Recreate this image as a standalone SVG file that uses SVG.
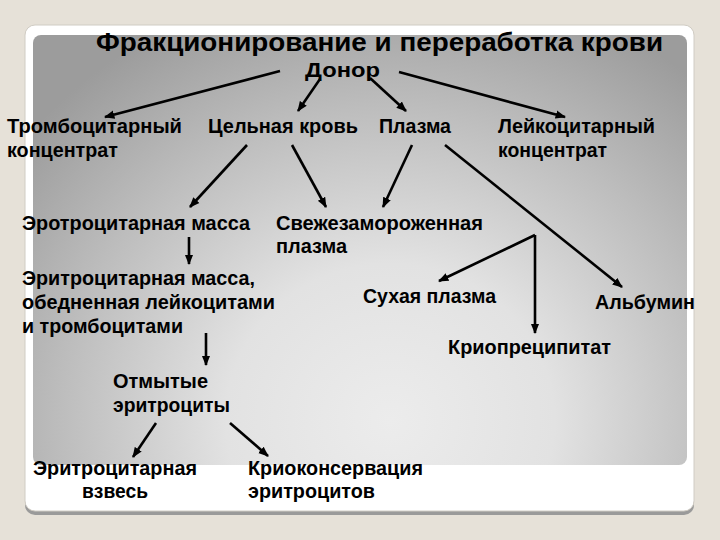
<svg xmlns="http://www.w3.org/2000/svg" width="720" height="540" viewBox="0 0 720 540">
<defs>
<radialGradient id="pg" gradientUnits="userSpaceOnUse" cx="390" cy="420" r="470" gradientTransform="translate(390 420) scale(1 0.95) translate(-390 -420)">
<stop offset="0" stop-color="#ececec"/>
<stop offset="0.35" stop-color="#e2e2e2"/>
<stop offset="0.7" stop-color="#bdbdbd"/>
<stop offset="1" stop-color="#9c9c9c"/>
</radialGradient>
<marker id="ah" viewBox="0 0 10 10" refX="9" refY="5" markerWidth="4" markerHeight="4" orient="auto" markerUnits="strokeWidth">
<path d="M0,1 L10,5 L0,9 z" fill="#000"/>
</marker>
<style>
text{font-family:"Liberation Sans",Arial,sans-serif;font-weight:bold;fill:#000;}
.t{font-size:19.5px;}
.c{stroke:#000;stroke-width:2.6;fill:none;}
.a{marker-end:url(#ah);}
</style>
</defs>
<rect width="720" height="540" fill="#e6e1d8"/>
<g id="card">
<rect x="25" y="28" width="669" height="487" rx="10" fill="#9a9a9a"/>
<rect x="25" y="25" width="669" height="486" rx="10" fill="#ffffff" stroke="#d0ccc4" stroke-width="1"/>
<rect x="33" y="35" width="654" height="430" rx="8" fill="url(#pg)"/>
</g>
<g id="title"><text x="96" y="51" font-size="25" textLength="567" lengthAdjust="spacingAndGlyphs">Фракционирование и переработка крови</text></g>
<g id="donor"><text x="305" y="77" font-size="21" textLength="75" lengthAdjust="spacingAndGlyphs">Донор</text></g>
<g id="tromb"><text class="t" x="7" y="133" textLength="175" lengthAdjust="spacingAndGlyphs">Тромбоцитарный</text><text class="t" x="7" y="157" textLength="111" lengthAdjust="spacingAndGlyphs">концентрат</text></g>
<g id="whole"><text class="t" x="208" y="133" textLength="150" lengthAdjust="spacingAndGlyphs">Цельная кровь</text></g>
<g id="plasma"><text class="t" x="379" y="133" textLength="72" lengthAdjust="spacingAndGlyphs">Плазма</text></g>
<g id="leuk"><text class="t" x="498" y="133" textLength="157" lengthAdjust="spacingAndGlyphs">Лейкоцитарный</text><text class="t" x="498" y="157" textLength="109" lengthAdjust="spacingAndGlyphs">концентрат</text></g>
<g id="ermass"><text class="t" x="22" y="230" textLength="228" lengthAdjust="spacingAndGlyphs">Эротроцитарная масса</text></g>
<g id="ffp"><text class="t" x="276" y="230" textLength="207" lengthAdjust="spacingAndGlyphs">Свежезамороженная</text><text class="t" x="276" y="253" textLength="71" lengthAdjust="spacingAndGlyphs">плазма</text></g>
<g id="erdepl"><text class="t" x="22" y="285" textLength="233" lengthAdjust="spacingAndGlyphs">Эритроцитарная масса,</text><text class="t" x="22" y="309" textLength="253" lengthAdjust="spacingAndGlyphs">обедненная лейкоцитами</text><text class="t" x="22" y="333" textLength="161" lengthAdjust="spacingAndGlyphs">и тромбоцитами</text></g>
<g id="dry"><text class="t" x="363" y="303" textLength="133" lengthAdjust="spacingAndGlyphs">Сухая плазма</text></g>
<g id="alb"><text class="t" x="595" y="309" textLength="100" lengthAdjust="spacingAndGlyphs">Альбумин</text></g>
<g id="cryo"><text class="t" x="448" y="354" textLength="163" lengthAdjust="spacingAndGlyphs">Криопреципитат</text></g>
<g id="washed"><text class="t" x="113" y="388" textLength="95" lengthAdjust="spacingAndGlyphs">Отмытые</text><text class="t" x="113" y="412" textLength="117" lengthAdjust="spacingAndGlyphs">эритроциты</text></g>
<g id="susp"><text class="t" x="33" y="475" textLength="164" lengthAdjust="spacingAndGlyphs">Эритроцитарная</text><text class="t" x="82" y="498" textLength="66" lengthAdjust="spacingAndGlyphs">взвесь</text></g>
<g id="cryocons"><text class="t" x="248" y="475" textLength="175" lengthAdjust="spacingAndGlyphs">Криоконсервация</text><text class="t" x="248" y="498" textLength="127" lengthAdjust="spacingAndGlyphs">эритроцитов</text></g>
<g id="connectors">
<line class="c a" x1="280" y1="71" x2="105" y2="117"/>
<line class="c a" x1="320" y1="79" x2="298" y2="111"/>
<line class="c a" x1="370" y1="78" x2="406" y2="111"/>
<line class="c a" x1="399" y1="72" x2="565" y2="117"/>
<line class="c a" x1="247" y1="145" x2="190" y2="207"/>
<line class="c a" x1="292" y1="145" x2="326" y2="207"/>
<line class="c a" x1="412" y1="145" x2="383" y2="207"/>
<line class="c a" x1="445" y1="145" x2="622" y2="287"/>
<line class="c a" x1="535" y1="235" x2="439" y2="281"/>
<line class="c a" x1="535" y1="235" x2="535" y2="333"/>
<line class="c a" x1="189" y1="237" x2="189" y2="264"/>
<line class="c a" x1="206" y1="333" x2="206" y2="365"/>
<line class="c a" x1="156" y1="423" x2="133" y2="457"/>
<line class="c a" x1="230" y1="423" x2="268" y2="456"/>
</g>
</svg>
